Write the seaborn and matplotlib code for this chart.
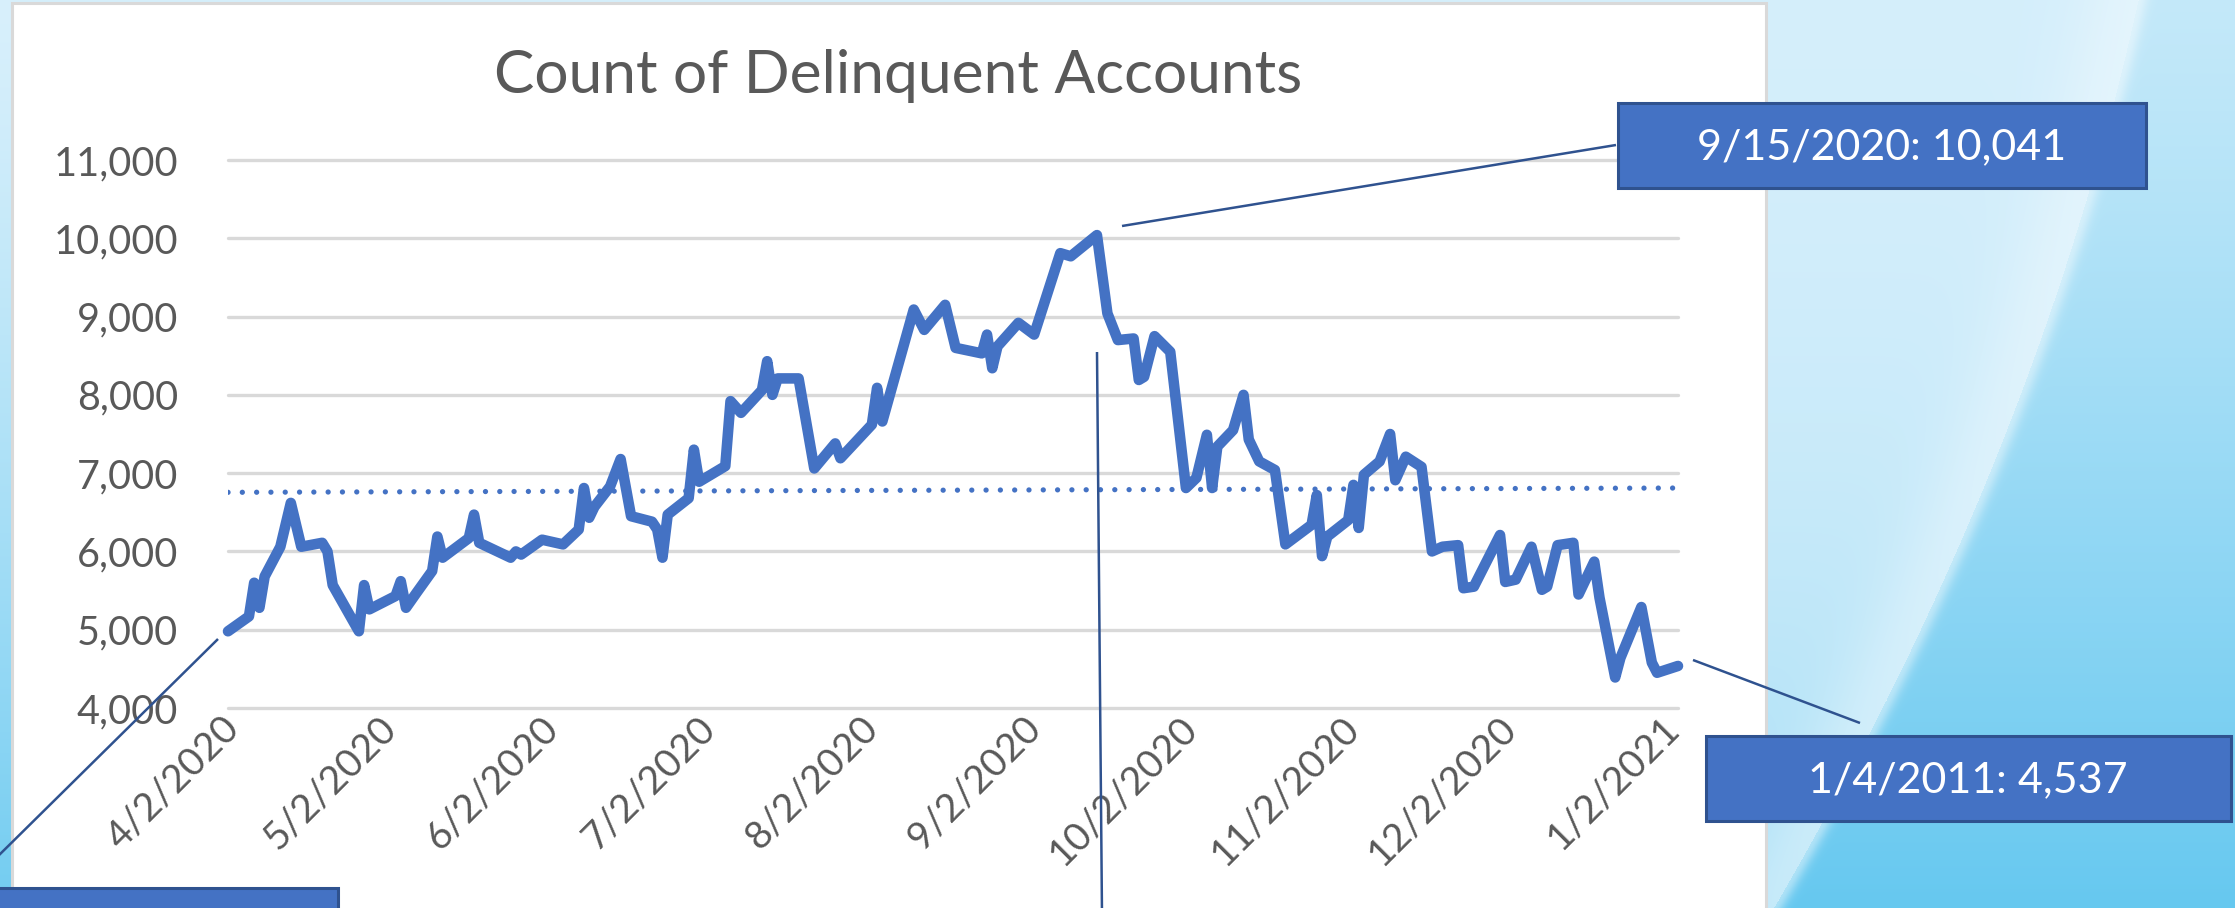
import numpy as np
import pandas as pd
import matplotlib
matplotlib.use("Agg")
import matplotlib.pyplot as plt
import matplotlib.transforms as mtransforms
import seaborn as sns
from matplotlib.patches import Rectangle
from matplotlib.lines import Line2D

# ---------------- data ----------------
dates = [
    "2020-04-02", "2020-04-06", "2020-04-07", "2020-04-08", "2020-04-09", "2020-04-12",
    "2020-04-14", "2020-04-16", "2020-04-20", "2020-04-21", "2020-04-22", "2020-04-27",
    "2020-04-28", "2020-04-29", "2020-05-04", "2020-05-05", "2020-05-06", "2020-05-08",
    "2020-05-11", "2020-05-12", "2020-05-13", "2020-05-15", "2020-05-18", "2020-05-19",
    "2020-05-20", "2020-05-26", "2020-05-27", "2020-05-28", "2020-06-01", "2020-06-05",
    "2020-06-08", "2020-06-09", "2020-06-10", "2020-06-11", "2020-06-14", "2020-06-16",
    "2020-06-18", "2020-06-22", "2020-06-23", "2020-06-24", "2020-06-25", "2020-06-29",
    "2020-06-30", "2020-07-01", "2020-07-06", "2020-07-07", "2020-07-09", "2020-07-13",
    "2020-07-14", "2020-07-15", "2020-07-16", "2020-07-20", "2020-07-23", "2020-07-27",
    "2020-07-28", "2020-08-03", "2020-08-04", "2020-08-05", "2020-08-11", "2020-08-13",
    "2020-08-17", "2020-08-19", "2020-08-24", "2020-08-25", "2020-08-26", "2020-08-27",
    "2020-08-31", "2020-09-03", "2020-09-08", "2020-09-10", "2020-09-15", "2020-09-17",
    "2020-09-19", "2020-09-22", "2020-09-23", "2020-09-24", "2020-09-26", "2020-09-29",
    "2020-10-02", "2020-10-04", "2020-10-06", "2020-10-07", "2020-10-08", "2020-10-11",
    "2020-10-13", "2020-10-14", "2020-10-16", "2020-10-19", "2020-10-21", "2020-10-26",
    "2020-10-27", "2020-10-28", "2020-10-29", "2020-11-02", "2020-11-03", "2020-11-04",
    "2020-11-05", "2020-11-08", "2020-11-10", "2020-11-11", "2020-11-13", "2020-11-16",
    "2020-11-18", "2020-11-20", "2020-11-23", "2020-11-24", "2020-11-26", "2020-12-01",
    "2020-12-02", "2020-12-04", "2020-12-07", "2020-12-09", "2020-12-10", "2020-12-12",
    "2020-12-15", "2020-12-16", "2020-12-19", "2020-12-20", "2020-12-23", "2020-12-24",
    "2020-12-28", "2020-12-30", "2020-12-31", "2021-01-04",
]
counts = [
    4980, 5170, 5600, 5280, 5680, 6060,
    6620, 6060, 6110, 6000, 5570, 4980,
    5570, 5260, 5430, 5620, 5280, 5470,
    5750, 6190, 5920, 6020, 6170, 6470,
    6110, 5920, 6000, 5960, 6150, 6090,
    6280, 6810, 6430, 6570, 6830, 7180,
    6450, 6380, 6280, 5920, 6470, 6680,
    7300, 6890, 7090, 7920, 7770, 8060,
    8430, 8000, 8210, 8210, 7060, 7380,
    7190, 7620, 8090, 7660, 9090, 8830,
    9150, 8600, 8530, 8770, 8340, 8620,
    8920, 8770, 9810, 9770, 10041, 9040,
    8700, 8720, 8190, 8230, 8750, 8550,
    6810, 6940, 7490, 6810, 7340, 7550,
    8000, 7430, 7150, 7040, 6090, 6340,
    6720, 5940, 6190, 6400, 6850, 6300,
    6980, 7150, 7500, 6910, 7210, 7080,
    6000, 6060, 6080, 5530, 5550, 6210,
    5610, 5640, 6060, 5510, 5550, 6080,
    6110, 5450, 5870, 5410, 4390, 4640,
    5290, 4580, 4450, 4537,
]
trend_dates = ["2020-04-02", "2021-01-04"]
trend_values = [6755, 6810]

tick_dates = ["2020-04-02", "2020-05-02", "2020-06-02", "2020-07-02", "2020-08-02",
              "2020-09-02", "2020-10-02", "2020-11-02", "2020-12-02", "2021-01-02"]
tick_labels = ["4/2/2020", "5/2/2020", "6/2/2020", "7/2/2020", "8/2/2020",
               "9/2/2020", "10/2/2020", "11/2/2020", "12/2/2020", "1/2/2021"]
y_ticks = [4000, 5000, 6000, 7000, 8000, 9000, 10000, 11000]

title = "Count of Delinquent Accounts"
peak_label = "9/15/2020: 10,041"
end_label = "1/4/2011: 4,537"

# ---------------- style ----------------
W, H = 2235, 908
sns.set_theme(style="white")
plt.rcParams["font.family"] = ["Lato", "DejaVu Sans"]

BLUE = "#4472C4"
DARK = "#2F528F"
GREY_TXT = "#595959"

fig = plt.figure(figsize=(W / 100, H / 100), dpi=100)

# ---------------- background (slide) ----------------
bg = fig.add_axes([0, 0, 1, 1], zorder=0)
bg.set_axis_off()
yy, xx = np.mgrid[0:H, 0:W].astype(float)
light = np.array([0.87, 0.948, 0.988])
deep = np.array([0.40, 0.785, 0.94])
xarc = 2138 - 0.22 * yy - 2.0e-4 * yy ** 2
right = xx > xarc
t = np.where(right, 0.22 + 0.78 * (yy / H) ** 1.2, 0.08 + 0.38 * (yy / H) ** 2)
t = np.where(xx < 20, np.clip(0.05 + 0.85 * (yy / H) ** 1.3, 0, 1), t)
img = light * (1 - t[..., None]) + deep * t[..., None]
dist = xx - xarc
glow = np.where(dist < 0, np.exp(-(dist / 60) ** 2) * 0.35, np.exp(-(dist / 10) ** 2) * 0.45)
img = img + (1 - img) * glow[..., None]
bg.imshow(img, extent=[0, W, H, 0], aspect="auto", interpolation="bilinear")
bg.set_xlim(0, W)
bg.set_ylim(H, 0)
bg.add_patch(Rectangle((12, 3), 1754, H + 20, facecolor="white",
                       edgecolor="#d9d9d9", lw=2.2))

# ---------------- main chart ----------------
ax = fig.add_axes([228 / W, 1 - 708 / H, (1678 - 228) / W, (708 - 160) / H], zorder=1)
ax.patch.set_alpha(0)

df = pd.DataFrame({"date": pd.to_datetime(dates), "count": counts})
tr = pd.DataFrame({"date": pd.to_datetime(trend_dates), "value": trend_values})

sns.lineplot(data=tr, x="date", y="value", ax=ax, color=BLUE)
sns.lineplot(data=df, x="date", y="count", ax=ax, color=BLUE, estimator=None)

for ln in ax.get_lines():
    n = len(ln.get_xdata())
    if n == len(trend_dates):
        ln.set_linewidth(3.8)
        ln.set_linestyle((0, (0.01, 2.7)))
        ln.set_dash_capstyle("round")
        ln.set_zorder(2)
    else:
        ln.set_linewidth(7.6)
        ln.set_solid_joinstyle("round")
        ln.set_solid_capstyle("round")
        ln.set_zorder(3)
        ln.set_clip_on(False)

ax.set_xlim(pd.Timestamp(dates[0]), pd.Timestamp(dates[-1]))
ax.set_ylim(y_ticks[0], y_ticks[-1])
ax.set_yticks(y_ticks)
ax.set_yticklabels([f"{v:,}" for v in y_ticks])
ax.set_xticks(pd.to_datetime(tick_dates))
ax.set_xticklabels(tick_labels, rotation=45, ha="right", va="top",
                   rotation_mode="anchor")
ax.tick_params(axis="y", length=0, pad=36, labelsize=28.5, labelcolor=GREY_TXT)
ax.tick_params(axis="x", length=0, pad=1, labelsize=28, labelcolor=GREY_TXT)
shift = mtransforms.ScaledTranslation(-7 / 100, 0, fig.dpi_scale_trans)
for lab in ax.get_xticklabels():
    lab.set_transform(lab.get_transform() + shift)
ax.set_xlabel("")
ax.set_ylabel("")
ax.grid(axis="y", color="#d9d9d9", lw=2.4)
ax.grid(axis="x", visible=False)
for gl in ax.get_ygridlines():
    gl.set_clip_on(False)
ax.set_axisbelow(True)
for s in ax.spines.values():
    s.set_visible(False)
leg = ax.get_legend()
if leg:
    leg.remove()

# ---------------- overlay: title, callouts ----------------
ov = fig.add_axes([0, 0, 1, 1], zorder=2)
ov.set_axis_off()
ov.patch.set_alpha(0)
ov.set_xlim(0, W)
ov.set_ylim(H, 0)

ov.text(898, 93, title, ha="center", va="baseline", fontsize=43.5, color=GREY_TXT)

line_kw = dict(color=DARK, lw=1.8, solid_capstyle="butt")
ov.add_line(Line2D([1122, 1616], [226, 145], **line_kw))
ov.add_line(Line2D([1693, 1860], [660, 723], **line_kw))
ov.add_line(Line2D([218, -10], [639, 864], clip_on=False, **line_kw))
ov.add_line(Line2D([1097, 1102], [352, 915], clip_on=False, **line_kw))

box_kw = dict(facecolor=BLUE, edgecolor=DARK, lw=2.2, clip_on=False)
ov.add_patch(Rectangle((1618, 103), 528, 85, **box_kw))
ov.text(1882, 147, peak_label, ha="center", va="center", fontsize=31, color="white")
ov.add_patch(Rectangle((1706, 736), 525, 85, **box_kw))
ov.text(1968, 780, end_label, ha="center", va="center", fontsize=31, color="white")
ov.add_patch(Rectangle((-10, 888), 348, 60, **box_kw))

fig.savefig("out.png", dpi=100)
